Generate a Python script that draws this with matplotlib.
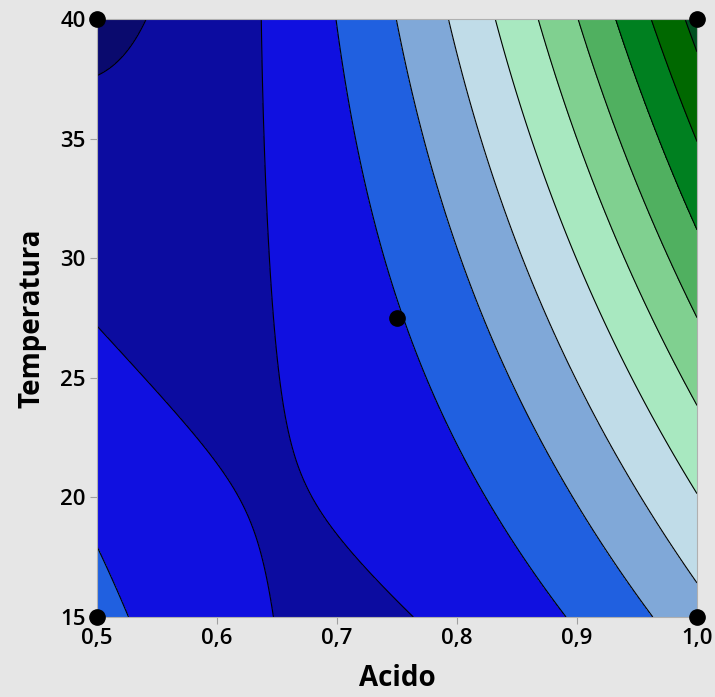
import numpy as np
import matplotlib
matplotlib.use("Agg")
import matplotlib.pyplot as plt

# Response-surface coefficients (estimated from the contour positions in the picture)
# terms: 1, u, v, u^2, u*v, v^2, u^3, u^2*v, u*v^2, v^3 with u=(Acido-0.75)/0.25, v=(Temp-27.5)/12.5
coef = [2.9327, 3.1283, 1.0687, 2.0482, 2.3297, 0.0506, -0.1138, 0.0104, -0.0531, -0.0388]

colors = ["#0a0a6e", "#0c0ca0", "#1010e0", "#2060e0", "#80a8d8", "#c0dce8",
          "#a8e8c0", "#80d090", "#50b060", "#008020", "#006800", "#005020"]
levels = [-50] + list(range(1, 12)) + [50]

design_acido = [0.5, 0.5, 1.0, 1.0, 0.75]
design_temp = [15, 40, 15, 40, 27.5]

x_ticks = [0.5, 0.6, 0.7, 0.8, 0.9, 1.0]
x_ticklabels = ["0,5", "0,6", "0,7", "0,8", "0,9", "1,0"]
y_ticks = [15, 20, 25, 30, 35, 40]


def terms(a, t):
    u = (np.asarray(a) - 0.75) / 0.25
    v = (np.asarray(t) - 27.5) / 12.5
    return np.stack([np.ones_like(u), u, v, u*u, u*v, v*v, u**3, u*u*v, u*v*v, v**3], axis=-1)


A, T = np.meshgrid(np.linspace(0.5, 1.0, 400), np.linspace(15, 40, 400))
Z = terms(A, T) @ np.array(coef)

bg = "#e6e6e6"
fig = plt.figure(figsize=(7.15, 6.97), dpi=100, facecolor=bg)
ax = fig.add_axes([97/715, 80/697, 600/715, 598/697])
ax.set_facecolor(bg)
ax.contourf(A, T, Z, levels=levels, colors=colors)
ax.contour(A, T, Z, levels=levels[1:-1], colors="black", linewidths=0.8)
ax.plot(design_acido, design_temp, "o", color="black", markersize=11, clip_on=False, zorder=5)
ax.set_xlim(0.5, 1.0)
ax.set_ylim(15, 40)
ax.set_xticks(x_ticks)
ax.set_xticklabels(x_ticklabels)
ax.set_yticks(y_ticks)
for s in ax.spines.values():
    s.set_color("#b0b0b0")
ax.tick_params(colors="#a0a0a0", labelcolor="black", labelsize=16, length=5, pad=3)
for lab in ax.get_xticklabels() + ax.get_yticklabels():
    lab.set_family("Open Sans")
    lab.set_fontweight("semibold")
ax.set_xlabel("Acido", fontsize=20, family="Open Sans", fontweight="bold", labelpad=11)
ax.set_ylabel("Temperatura", fontsize=20, family="Open Sans", fontweight="bold", labelpad=10)
fig.savefig("out.png", dpi=100, facecolor=bg)
